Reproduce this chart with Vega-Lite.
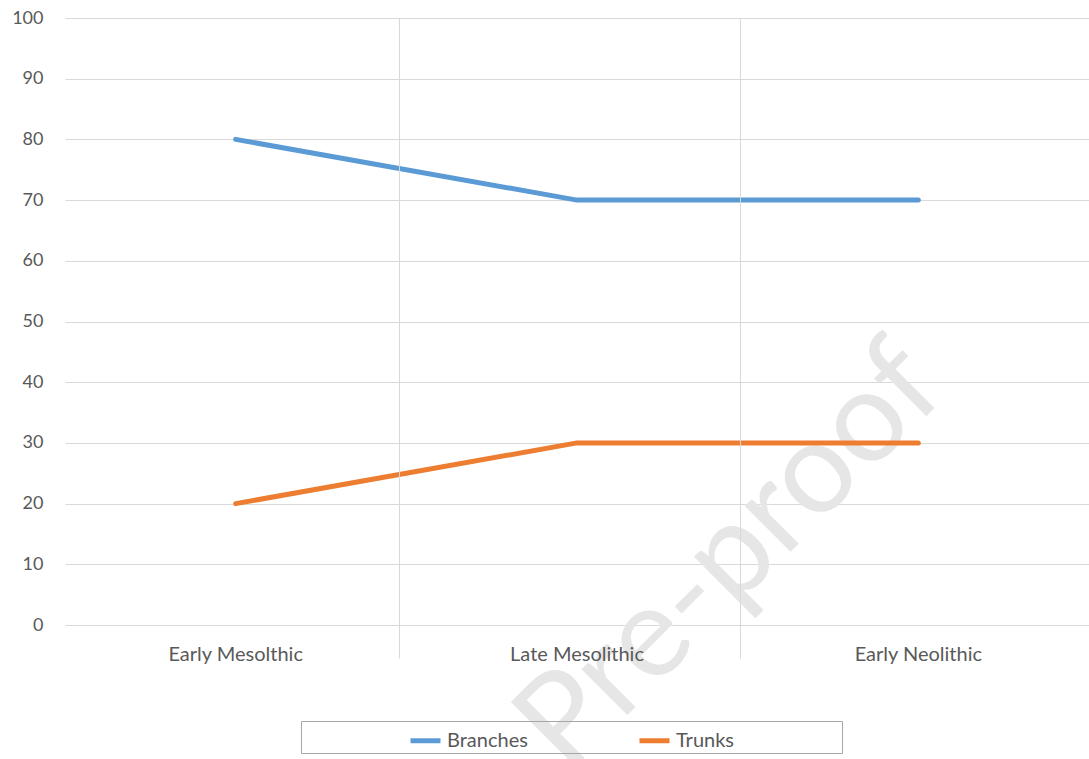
{
  "$schema": "https://vega.github.io/schema/vega-lite/v6.json",
  "width": 1024,
  "height": 607,
  "autosize": {"type": "none"},
  "padding": {"top": 18, "left": 65, "right": 0, "bottom": 134},
  "background": "white",
  "config": {
    "view": {"stroke": null},
    "font": "Lato"
  },
  "layer": [
    {
      "data": {"values": [{"period": "Late Mesolithic", "value": 13.2, "label": "Pre-proof"}]},
      "mark": {"type": "text", "angle": -45, "fontSize": 128, "fontWeight": "normal", "color": "#e6e6e6", "align": "center", "baseline": "middle", "dx": 100, "dy": 118},
      "encoding": {
        "x": {"field": "period", "type": "nominal", "sort": ["Early Mesolthic", "Late Mesolithic", "Early Neolithic"]},
        "y": {"field": "value", "type": "quantitative"},
        "text": {"field": "label"}
      }
    },
    {
      "data": {"values": [
        {"period": "Early Mesolthic", "series": "Branches", "value": 80},
        {"period": "Late Mesolithic", "series": "Branches", "value": 70},
        {"period": "Early Neolithic", "series": "Branches", "value": 70},
        {"period": "Early Mesolthic", "series": "Trunks", "value": 20},
        {"period": "Late Mesolithic", "series": "Trunks", "value": 30},
        {"period": "Early Neolithic", "series": "Trunks", "value": 30}
      ]},
      "mark": {"type": "line", "strokeWidth": 5, "strokeCap": "round", "strokeJoin": "round"},
      "encoding": {
        "x": {"field": "period", "type": "nominal", "sort": ["Early Mesolthic", "Late Mesolithic", "Early Neolithic"]},
        "y": {"field": "value", "type": "quantitative"},
        "color": {
          "field": "series", "type": "nominal",
          "scale": {"domain": ["Branches", "Trunks"], "range": ["#5b9bd5", "#ed7d31"]},
          "legend": {
            "title": ".",
            "titleOrient": "right",
            "titleColor": "transparent",
            "titlePadding": 103,
            "orient": "none",
            "direction": "horizontal",
            "legendX": 236,
            "legendY": 703,
            "padding": 2,
            "strokeColor": "#a6a6a6",
            "symbolType": "stroke",
            "symbolSize": 900,
            "symbolStrokeWidth": 5,
            "symbolOffset": 105,
            "labelFontSize": 20,
            "labelFont": "Lato",
            "labelColor": "#595959",
            "labelOffset": 4,
            "columnPadding": 4
          }
        }
      }
    }
  ],
  "encoding": {
    "x": {
      "field": "period", "type": "nominal",
      "sort": ["Early Mesolthic", "Late Mesolithic", "Early Neolithic"],
      "scale": {"type": "band", "paddingInner": 0, "paddingOuter": 0},
      "axis": {
        "title": null,
        "domain": false,
        "zindex": 1,
        "labelAngle": 0,
        "labelFontSize": 20,
        "labelColor": "#595959",
        "labelPadding": -14,
        "tickSize": 33,
        "tickWidth": 1,
        "bandPosition": -0.02,
        "tickColor": {"condition": {"test": "datum.value === 'Early Mesolthic'", "value": "transparent"}, "value": "#d9d9d9"},
        "grid": true,
        "gridColor": {"condition": {"test": "datum.value === 'Early Mesolthic'", "value": "transparent"}, "value": "#d9d9d9"}
      }
    },
    "y": {
      "field": "value", "type": "quantitative",
      "scale": {"domain": [0, 100]},
      "axis": {
        "title": null,
        "domain": false,
        "ticks": false,
        "values": [0, 10, 20, 30, 40, 50, 60, 70, 80, 90, 100],
        "labelFontSize": 18,
        "labelColor": "#595959",
        "labelPadding": 22,
        "gridColor": "#d9d9d9"
      }
    }
  }
}
